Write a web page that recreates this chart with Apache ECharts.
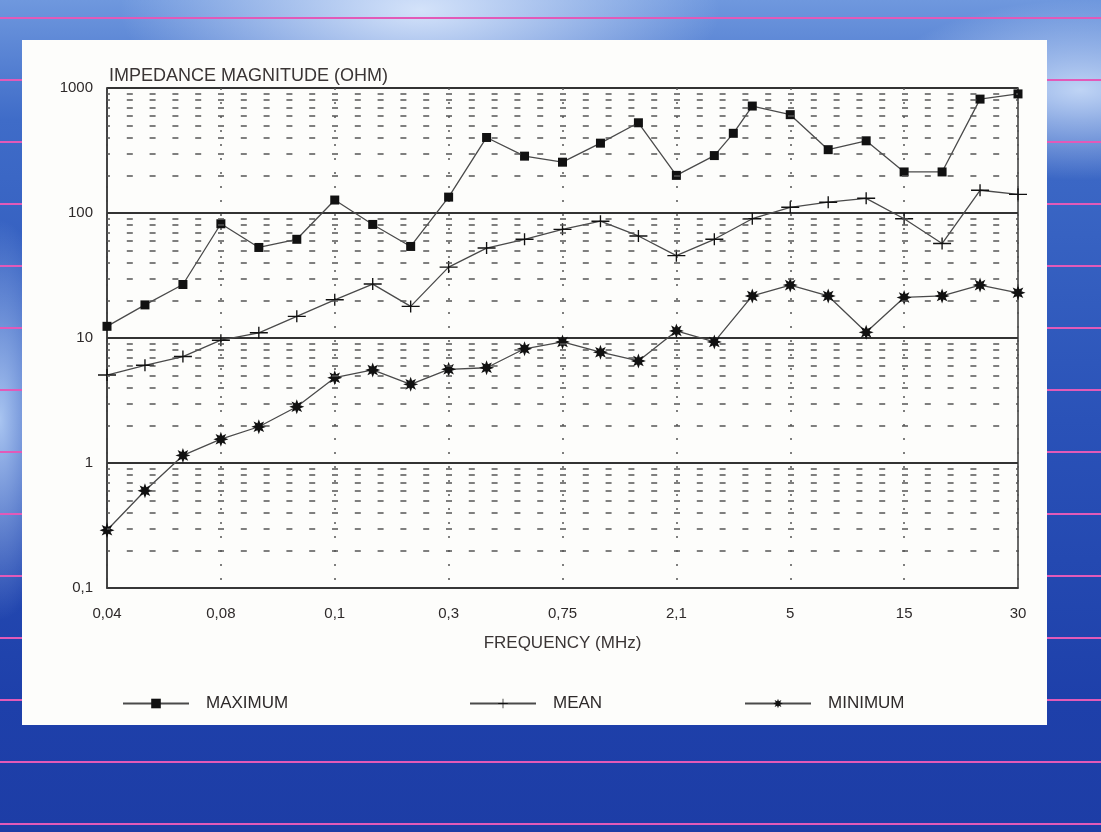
<!DOCTYPE html>
<html>
<head>
<meta charset="utf-8">
<script src="https://cdn.jsdelivr.net/npm/echarts@6/dist/echarts.min.js"></script>
<style>
  html, body { margin: 0; padding: 0; width: 1101px; height: 832px; overflow: hidden; }
  body {
    position: relative;
    background:
      repeating-linear-gradient(180deg, rgba(0,0,0,0) 0px, rgba(0,0,0,0) 17px, #e25ab8 17px, #e25ab8 19px, rgba(0,0,0,0) 19px, rgba(0,0,0,0) 62px),
      radial-gradient(ellipse 300px 120px at 420px 10px, rgba(230,240,255,0.85), rgba(230,240,255,0) 100%),
      radial-gradient(ellipse 200px 90px at 1080px 90px, rgba(220,235,255,0.8), rgba(220,235,255,0) 100%),
      radial-gradient(ellipse 60px 200px at 0px 420px, rgba(200,225,255,0.8), rgba(200,225,255,0) 100%),
      linear-gradient(180deg, #6f98de 0px, #3f6cc8 120px, #2a52b8 420px, #1e40aa 700px, #1d3da6 832px);
  }
  #panel { position: absolute; left: 22px; top: 40px; width: 1025px; height: 685px; background: #fdfdfb; }
  #chart { position: absolute; left: 0; top: 0; width: 1101px; height: 832px; }
</style>
</head>
<body>
<div id="panel"></div>
<div id="chart"></div>
<script>
// ---- data ----
const tickLabels = ['0,04', '0,08', '0,1', '0,3', '0,75', '2,1', '5', '15', '30'];
const pointIndex = [0, 1, 2, 3, 4, 5, 6, 7, 8, 9, 10, 11, 12, 13, 14, 15, 16, 17, 18, 19, 20, 21, 22, 23, 24];
const maxIndex = [0, 1, 2, 3, 4, 5, 6, 7, 8, 9, 10, 11, 12, 13, 14, 15, 16, 16.5, 17, 18, 19, 20, 21, 22, 23, 24];
const maximum = [12.4, 18.4, 26.8, 82, 53, 61.6, 127, 81, 54, 134, 402, 285, 255, 362, 527, 200, 288, 434, 717, 612, 321, 378, 213, 213, 815, 897];
const mean = [5.05, 6.05, 7.1, 9.6, 11, 14.9, 20.2, 27, 17.9, 36.9, 52.4, 61.6, 74, 86, 65.5, 45.6, 61.6, 90, 111, 122, 131, 90, 57, 152, 141];
const minimum = [0.29, 0.6, 1.15, 1.55, 1.95, 2.82, 4.81, 5.55, 4.26, 5.62, 5.78, 8.2, 9.3, 7.7, 6.55, 11.4, 9.3, 21.7, 26.5, 21.7, 11.1, 21.1, 21.7, 26.5, 23];

// ---- build ----
const pairs = (xs, ys) => xs.map((x, i) => [x, ys[i]]);

function starPath(n, rOut, rIn) {
  let d = '';
  for (let i = 0; i < n * 2; i++) {
    const r = i % 2 === 0 ? rOut : rIn;
    const a = Math.PI * i / n - Math.PI / 2;
    const x = (10 + r * Math.cos(a)).toFixed(2), y = (10 + r * Math.sin(a)).toFixed(2);
    d += (i === 0 ? 'M' : 'L') + x + ',' + y;
  }
  return 'path://' + d + 'Z';
}
const crossSymbol = 'path://M0,4.4h16v1.2h-16z M7.4,0h1.2v10h-1.2z';

const minorValues = [];
[0.1, 1, 10, 100].forEach(d => { for (let k = 2; k <= 9; k++) minorValues.push({ yAxis: +(d * k).toPrecision(3) }); });

const font = '"Liberation Sans", Arial, sans-serif';
const textColor = '#2e2a2a';
const lineColor = '#4a4a4a';

const chart = echarts.init(document.getElementById('chart'), null, { renderer: 'canvas' });
const legendBase = { orient: 'horizontal', itemWidth: 66, itemHeight: 12, textStyle: { fontFamily: font, fontSize: 17, color: textColor, padding: [0, 0, 0, 12] } };

chart.setOption({
  backgroundColor: 'transparent',
  animation: false,
  title: {
    text: 'IMPEDANCE MAGNITUDE (OHM)',
    left: 104, top: 62,
    textStyle: { fontFamily: font, fontSize: 18, fontWeight: 'normal', color: '#3a3535' }
  },
  grid: { left: 107, right: 83, top: 88, bottom: 244, show: true, borderColor: '#3a3a3a', borderWidth: 1.5, backgroundColor: 'transparent' },
  legend: [
    Object.assign({ data: ['MAXIMUM'], left: 117, top: 690 }, legendBase),
    Object.assign({ data: ['MEAN'], left: 464, top: 690 }, legendBase),
    Object.assign({ data: ['MINIMUM'], left: 739, top: 690 }, legendBase)
  ],
  xAxis: {
    type: 'value', min: 0, max: 24, interval: 3,
    name: 'FREQUENCY (MHz)', nameLocation: 'middle', nameGap: 47,
    nameTextStyle: { fontFamily: font, fontSize: 17, color: '#3a3535' },
    axisLine: { show: true, lineStyle: { color: '#3a3a3a', width: 1.5 } },
    axisTick: { show: false },
    axisLabel: { fontFamily: font, fontSize: 15, color: textColor, margin: 18, formatter: v => tickLabels[Math.round(v / 3)] },
    splitLine: { show: true, lineStyle: { color: '#555', width: 1.5, type: [2, 12] } }
  },
  yAxis: {
    type: 'log', logBase: 10, min: 0.1, max: 1000,
    axisLine: { show: true, lineStyle: { color: '#3a3a3a', width: 1.5 } },
    axisTick: { show: false },
    axisLabel: { fontFamily: font, fontSize: 15, color: textColor, margin: 14,
      formatter: v => String(+(+v).toPrecision(3)).replace('.', ',') },
    splitLine: { show: true, lineStyle: { color: '#333', width: 1.8 } },
    minorSplitLine: { show: false }
  },
  series: [
    {
      name: 'grid', type: 'line', data: [], silent: true, z: 1,
      markLine: {
        silent: true, symbol: 'none', label: { show: false },
        lineStyle: { color: '#555', width: 1.6, type: [6, 16.8], dashOffset: 3 },
        emphasis: { disabled: true },
        data: minorValues
      }
    },
    {
      name: 'MAXIMUM', type: 'line', data: pairs(maxIndex, maximum), z: 3,
      symbol: 'rect', symbolSize: 9,
      itemStyle: { color: '#111' },
      lineStyle: { color: lineColor, width: 1.3 }
    },
    {
      name: 'MEAN', type: 'line', data: pairs(pointIndex, mean), z: 3,
      symbol: crossSymbol, symbolSize: [18, 12],
      itemStyle: { color: '#111' },
      lineStyle: { color: lineColor, width: 1.3 }
    },
    {
      name: 'MINIMUM', type: 'line', data: pairs(pointIndex, minimum), z: 3,
      symbol: starPath(8, 10, 5), symbolSize: 15,
      itemStyle: { color: '#111' },
      lineStyle: { color: lineColor, width: 1.3 }
    }
  ]
});
</script>
</body>
</html>
